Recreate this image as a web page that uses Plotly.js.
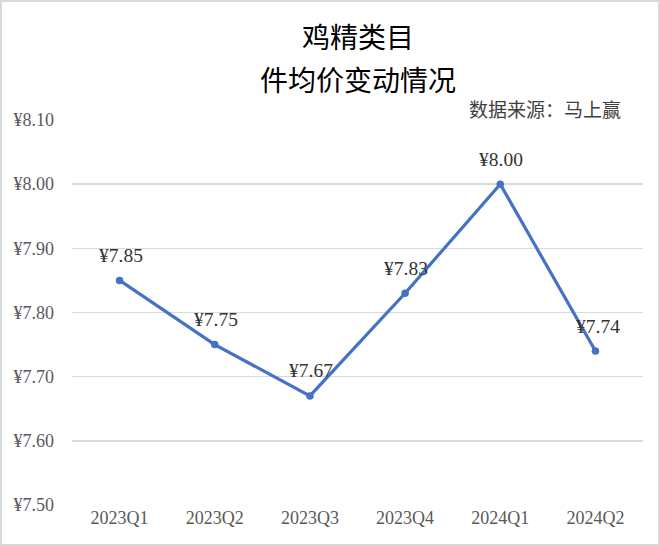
<!DOCTYPE html>
<html><head><meta charset="utf-8">
<script src="https://cdn.plot.ly/plotly-3.0.1.min.js"></script>
<style>
html,body{margin:0;padding:0;background:#fff;}
#wrap{width:660px;height:546px;box-sizing:border-box;border:2px solid #d9d9d9;}
#chart{width:656px;height:542px;}
</style></head>
<body><div id="wrap"><div id="chart"></div></div>
<script>
const categories = ["2023Q1","2023Q2","2023Q3","2023Q4","2024Q1","2024Q2"];
const avgPrice = [7.85, 7.75, 7.67, 7.83, 8.00, 7.74];
const priceLabels = ["¥7.85","¥7.75","¥7.67","¥7.83","¥8.00","¥7.74"];
const titleLines = ["鸡精类目","件均价变动情况"];
const sourceNote = "数据来源：马上赢";

const serif = '"Liberation Serif", "Times New Roman", "Noto Sans CJK SC", serif';
const cjk = '"Noto Sans CJK SC", "Liberation Serif", serif';

const trace = {
  x: categories, y: avgPrice, type: 'scatter', mode: 'lines+markers',
  line: {color: '#4472C4', width: 3.2},
  marker: {color: '#4472C4', size: 7.5},
  hoverinfo: 'skip'
};

const annotations = categories.map((c, i) => ({
  x: c, y: avgPrice[i], xref: 'x', yref: 'y', text: priceLabels[i],
  showarrow: false, yshift: 25, xshift: (i === 5 ? 3 : 1),
  font: {family: serif, size: 19.5, color: '#333333'}
}));
annotations.push({
  xref: 'paper', yref: 'paper', x: 1, y: 1, xanchor: 'right', yanchor: 'middle',
  xshift: -20, yshift: 12, text: sourceNote, showarrow: false,
  font: {family: cjk, size: 19, color: '#404040'}
});
annotations.push({
  xref: 'paper', yref: 'paper', x: 0.5, y: 1, xanchor: 'center', yanchor: 'middle',
  yshift: 84, text: titleLines[0], showarrow: false,
  font: {family: cjk, size: 28, color: '#000'}
});
annotations.push({
  xref: 'paper', yref: 'paper', x: 0.5, y: 1, xanchor: 'center', yanchor: 'middle',
  yshift: 41, text: titleLines[1], showarrow: false,
  font: {family: cjk, size: 28, color: '#000'}
});

const layout = {
  width: 656, height: 542,
  margin: {l: 70, r: 15, t: 118, b: 39},
  paper_bgcolor: '#fff', plot_bgcolor: '#fff',
  showlegend: false,
  xaxis: {type: 'category', range: [-0.5, 5.5], showgrid: false, zeroline: false, showline: false, ticks: '',
    tickfont: {family: serif, size: 18, color: '#595959'}},
  yaxis: {range: [7.5, 8.1], dtick: 0.1, tick0: 7.5, tickprefix: '¥', tickformat: '.2f',
    showgrid: true, gridcolor: '#d9d9d9', gridwidth: 1.5, zeroline: false, showline: false, ticks: '',
    ticklabelstandoff: 17,
    tickfont: {family: serif, size: 18, color: '#595959'}},
  annotations: annotations
};

Plotly.newPlot('chart', [trace], layout, {displayModeBar: false, staticPlot: true});
</script></body></html>
